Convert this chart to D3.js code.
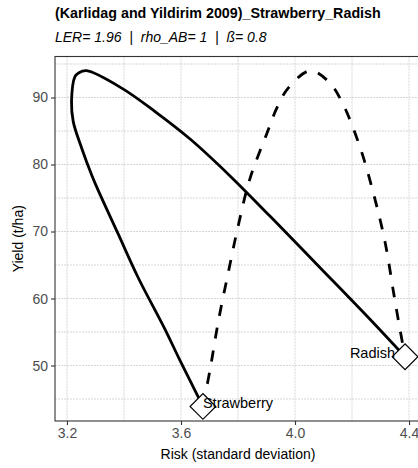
<!DOCTYPE html>
<html>
<head>
<meta charset="utf-8">
<script src="https://cdn.jsdelivr.net/npm/d3@7"></script>
<style>
  body { margin: 0; background: #fff; }
  svg { display: block; font-family: "Liberation Sans", Arial, sans-serif; }
</style>
</head>
<body>
<script>
// crops (monoculture points)
var cropNames = ['Strawberry', 'Radish'];
var cropRisk = [3.677, 4.386];
var cropYield = [43.9, 51.3];

// solid curve, strawberry -> radish
var solidRisk = [3.677, 3.596, 3.544, 3.450, 3.380, 3.310, 3.287, 3.252, 3.222, 3.216, 3.228, 3.242, 3.269,
    3.392, 3.509, 3.632, 3.772, 3.912, 4.088, 4.263, 4.386];
var solidYield = [43.9, 50.8, 55.4, 63.1, 69.6, 76.1, 78.4, 82.4, 86.4, 89.4, 93.1, 93.7, 94.0,
    91.4, 87.9, 83.8, 78.3, 72.3, 64.6, 56.9, 51.3];

// dashed curve, strawberry -> radish
var dashRisk = [3.677, 3.702, 3.731, 3.766, 3.801, 3.842, 3.901, 3.936, 3.976, 4.053, 4.117, 4.164,
    4.228, 4.277, 4.316, 4.345, 4.359, 4.386];
var dashYield = [43.9, 49.4, 56.6, 63.9, 70.9, 77.9, 84.6, 88.4, 91.4, 94.0, 92.4, 89.4,
    82.6, 75.4, 68.4, 61.1, 57.6, 51.3];

var xTicks = [3.2, 3.6, 4.0, 4.4];
var xMinor = [3.4, 3.8, 4.2];
var yTicks = [50, 60, 70, 80, 90];
var yMinor = [45, 55, 65, 75, 85, 95];

var W = 418, H = 468;
var panel = { left: 55, top: 56.5, right: 421, bottom: 421 };

var svg = d3.select('body').append('svg')
    .attr('width', W)
    .attr('height', H);

var x = d3.scaleLinear().domain([3.158, 4.442]).range([panel.left, panel.right]);
var y = d3.scaleLinear().domain([41.72, 96.12]).range([panel.bottom, panel.top]);

// grid
var grid = svg.append('g')
    .attr('stroke', '#d6d6d6')
    .attr('stroke-dasharray', '2,1');
grid.selectAll('.vx')
    .data(xMinor.concat(xTicks))
    .enter().append('line')
    .attr('x1', function (d) { return x(d); })
    .attr('x2', function (d) { return x(d); })
    .attr('y1', panel.top)
    .attr('y2', panel.bottom);
grid.selectAll('.hy')
    .data(yMinor.concat(yTicks))
    .enter().append('line')
    .attr('x1', panel.left)
    .attr('x2', panel.right)
    .attr('y1', function (d) { return y(d); })
    .attr('y2', function (d) { return y(d); });

// curves
var line = d3.line()
    .x(function (d) { return x(d[0]); })
    .y(function (d) { return y(d[1]); })
    .curve(d3.curveCatmullRom.alpha(0.5));

svg.append('path')
    .datum(d3.zip(solidRisk, solidYield))
    .attr('d', line)
    .attr('fill', 'none')
    .attr('stroke', '#000')
    .attr('stroke-width', 2.8)
    .attr('stroke-linejoin', 'round');

svg.append('path')
    .datum(d3.zip(dashRisk, dashYield))
    .attr('d', line)
    .attr('fill', 'none')
    .attr('stroke', '#000')
    .attr('stroke-width', 2.8)
    .attr('stroke-dasharray', '11,12');

// crop points
var crops = cropNames.map(function (n, i) { return { name: n, risk: cropRisk[i], yield: cropYield[i] }; });

svg.selectAll('.pt')
    .data(crops)
    .enter().append('path')
    .attr('d', d3.symbol().type(d3.symbolSquare).size(330))
    .attr('transform', function (d) { return 'translate(' + x(d.risk) + ',' + y(d.yield) + ') rotate(45)'; })
    .attr('fill', '#fff')
    .attr('stroke', '#000')
    .attr('stroke-width', 1.2);

svg.selectAll('.lbl')
    .data(crops)
    .enter().append('text')
    .attr('x', function (d, i) { return x(d.risk) - (i === 1 ? 10 : 0); })
    .attr('y', function (d) { return y(d.yield) + 1.5; })
    .attr('text-anchor', function (d, i) { return i === 1 ? 'end' : 'start'; })
    .style('font-size', '14.5px')
    .attr('fill', '#000')
    .text(function (d) { return d.name; });

// panel border
svg.append('rect')
    .attr('x', panel.left)
    .attr('y', panel.top)
    .attr('width', panel.right - panel.left)
    .attr('height', panel.bottom - panel.top)
    .attr('fill', 'none')
    .attr('stroke', '#333')
    .attr('stroke-width', 1.1);

// axes
var xAxis = svg.append('g')
    .attr('transform', 'translate(0,' + panel.bottom + ')')
    .call(d3.axisBottom(x).tickValues(xTicks).tickFormat(d3.format('.1f')).tickSize(4).tickPadding(3));
var yAxis = svg.append('g')
    .attr('transform', 'translate(' + panel.left + ',0)')
    .call(d3.axisLeft(y).tickValues(yTicks).tickSize(4).tickPadding(3));

[xAxis, yAxis].forEach(function (a) {
    a.select('.domain').remove();
    a.selectAll('line').attr('stroke', '#333').attr('stroke-width', 1.1);
    a.selectAll('text')
        .attr('fill', '#4d4d4d')
        .style('font-size', '14px')
        .style('font-family', '"Liberation Sans", Arial, sans-serif');
});

// titles
svg.append('text')
    .attr('x', (panel.left + panel.right) / 2)
    .attr('y', 459)
    .attr('text-anchor', 'middle')
    .style('font-size', '14px')
    .text('Risk (standard deviation)');

svg.append('text')
    .attr('transform', 'translate(23,' + (panel.top + panel.bottom) / 2 + ') rotate(-90)')
    .attr('text-anchor', 'middle')
    .style('font-size', '14px')
    .text('Yield (t/ha)');

svg.append('text')
    .attr('x', 55)
    .attr('y', 18)
    .style('font-size', '14.3px')
    .style('font-weight', 'bold')
    .text('(Karlidag and Yildirim 2009)_Strawberry_Radish');

svg.append('text')
    .attr('x', 55)
    .attr('y', 41.5)
    .style('font-size', '14px')
    .style('font-style', 'italic')
    .style('white-space', 'pre')
    .text('LER= 1.96  |  rho_AB= 1  |  ß= 0.8');
</script>
</body>
</html>
